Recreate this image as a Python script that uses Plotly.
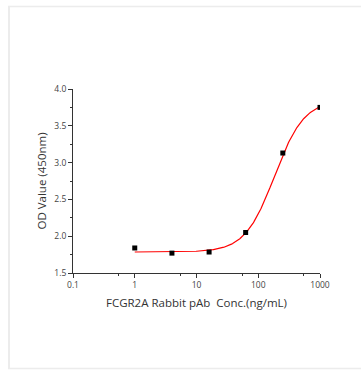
import numpy as np
import plotly.graph_objects as go

# Data
conc = [1, 4, 16, 62.5, 250, 1000]
od = [1.84, 1.77, 1.785, 2.05, 3.13, 3.75]

# 4-parameter logistic fit parameters (estimated from the drawn curve)
fit_bottom = 1.785
fit_top = 3.85
fit_ec50 = 183.5
fit_hill = 1.81

x_tickvals = [0.1, 1, 10, 100, 1000]
x_ticktext = ["0.1", "1", "10", "100", "1000"]
y_tickvals = [1.5, 2.0, 2.5, 3.0, 3.5, 4.0]
y_ticktext = ["1.5", "2.0", "2.5", "3.0", "3.5", "4.0"]

xfit = np.logspace(0, 3, 300)
yfit = fit_top + (fit_bottom - fit_top) / (1 + (xfit / fit_ec50) ** fit_hill)

fig = go.Figure()
fig.add_trace(go.Scatter(x=xfit, y=yfit, mode="lines",
                         line=dict(color="#ff0000", width=1.2),
                         hoverinfo="skip", showlegend=False))
fig.add_trace(go.Scatter(x=conc, y=od, mode="markers",
                         marker=dict(symbol="square", size=5, color="black"),
                         showlegend=False))

L, R, T, B = 73, 41, 89, 97
W, H = 361, 370
pw, ph = W - L - R, H - T - B

def px(x):
    return (x - L) / pw

def py(y):
    return (H - B - y) / ph

fig.update_layout(
    width=W, height=H,
    margin=dict(l=L, r=R, t=T, b=B),
    paper_bgcolor="white", plot_bgcolor="white",
    font=dict(family="Open Sans", color="#333333"),
    shapes=[
        dict(type="line", xref="paper", yref="paper", x0=px(9), x1=px(9), y0=py(6), y1=py(369),
             line=dict(color="#ececec", width=2)),
        dict(type="line", xref="paper", yref="paper", x0=px(8), x1=px(362), y0=py(6.5), y1=py(6.5),
             line=dict(color="#ececec", width=1.5)),
        dict(type="line", xref="paper", yref="paper", x0=px(8), x1=px(362), y0=py(368.5), y1=py(368.5),
             line=dict(color="#ececec", width=1.5)),
    ],
    xaxis=dict(
        type="log", range=[-1, 3],
        tickmode="array", tickvals=x_tickvals, ticktext=x_ticktext,
        ticks="outside", ticklen=4, tickcolor="#333", tickwidth=1,
        minor=dict(tickmode="array", tickvals=[0.55, 5.5, 55, 550], ticks="outside",
                   ticklen=2, tickcolor="#333"),
        showline=True, linecolor="#333", linewidth=1,
        showgrid=False, zeroline=False,
        tickfont=dict(size=8.5, color="#444"),
        title=dict(text="FCGR2A Rabbit pAb  Conc.(ng/mL)", font=dict(size=11.5, color="#333"), standoff=9),
    ),
    yaxis=dict(
        range=[1.5, 4.0],
        tickmode="array", tickvals=y_tickvals, ticktext=y_ticktext,
        ticks="outside", ticklen=4, tickcolor="#333", tickwidth=1,
        minor=dict(tickmode="array", tickvals=[1.75, 2.25, 2.75, 3.25, 3.75], ticks="outside",
                   ticklen=2, tickcolor="#333"),
        showline=True, linecolor="#333", linewidth=1,
        showgrid=False, zeroline=False,
        tickfont=dict(size=8.5, color="#444"),
        title=dict(text="OD Value (450nm)", font=dict(size=11.5, color="#333"), standoff=5),
    ),
)

fig.write_html("out.html", config={"displayModeBar": False},
               post_script="document.body.style.margin='0px';document.body.style.padding='0px';")
